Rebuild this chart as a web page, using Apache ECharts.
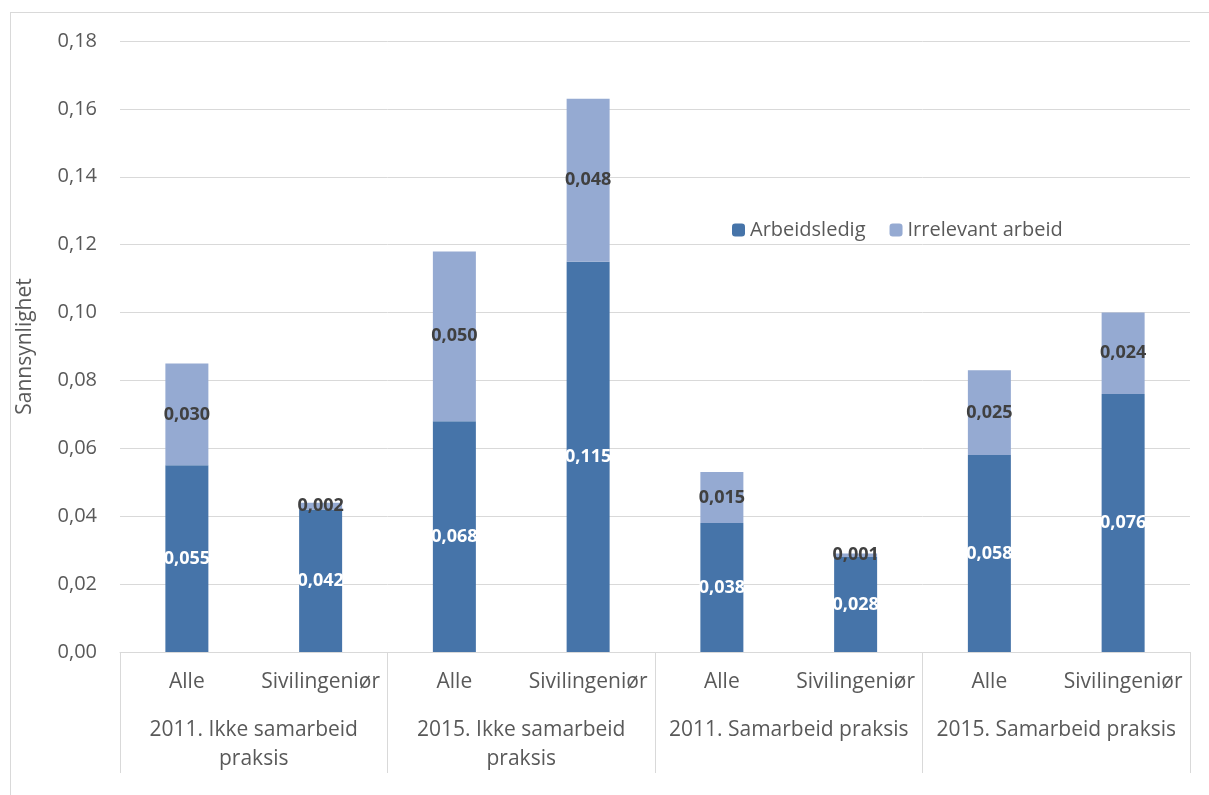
<!DOCTYPE html>
<html><head><meta charset="utf-8">
<script src="https://cdn.jsdelivr.net/npm/echarts@6/dist/echarts.min.js"></script>
<style>html,body{margin:0;padding:0;background:#fff;overflow:hidden}#c{width:1209px;height:795px;position:relative}
#frame{position:absolute;left:10px;top:12px;width:1300px;height:900px;border-left:1px solid #d9d9d9;border-top:1px solid #d9d9d9;pointer-events:none}</style>
</head><body><div id="frame"></div><div id="c"></div>
<script>
const subCategories = ['Alle','Sivilingeniør','Alle','Sivilingeniør','Alle','Sivilingeniør','Alle','Sivilingeniør'];
const groupLabels = ['2011. Ikke samarbeid\npraksis','2015. Ikke samarbeid\npraksis','2011. Samarbeid praksis','2015. Samarbeid praksis'];
const arbeidsledig = [0.055,0.042,0.068,0.115,0.038,0.028,0.058,0.076];
const irrelevant = [0.030,0.002,0.050,0.048,0.015,0.001,0.025,0.024];
const yTicks = {min:0, max:0.18, interval:0.02};

const FONT = '"Open Sans", Lato, sans-serif';
const fmt = v => v.toFixed(3).replace('.', ',');
const chart = echarts.init(document.getElementById('c'));
chart.setOption({
  animation:false,
  textStyle:{fontFamily:FONT},
  grid:{left:120,right:19,top:41,bottom:143},
  legend:{left:727,top:215,itemWidth:13,itemHeight:13,itemGap:24,
    textStyle:{fontSize:20,color:'#595959',fontFamily:FONT},
    data:['Arbeidsledig','Irrelevant arbeid']},
  xAxis:[
    {type:'category',data:subCategories,
     axisLine:{lineStyle:{color:'#d9d9d9',width:1}},
     axisTick:{show:false},
     axisLabel:{interval:0,fontSize:21,color:'#595959',margin:20,fontFamily:FONT}},
    {type:'category',data:groupLabels,position:'bottom',
     axisLine:{show:false},
     axisTick:{show:true,length:121,lineStyle:{color:'#d9d9d9',width:1}},
     axisLabel:{interval:0,fontSize:21,color:'#595959',margin:64,lineHeight:29,fontFamily:FONT}}
  ],
  yAxis:{type:'value',min:yTicks.min,max:yTicks.max,interval:yTicks.interval,
    name:'Sannsynlighet',nameLocation:'middle',nameGap:84,nameRotate:90,
    nameTextStyle:{fontSize:21,color:'#595959',fontFamily:FONT},
    axisLine:{show:false},axisTick:{show:false},
    axisLabel:{fontSize:20,color:'#595959',margin:23,fontFamily:FONT,formatter:v=>v.toFixed(2).replace('.',',')},
    splitLine:{lineStyle:{color:'#d9d9d9',width:1}}},
  series:[
    {name:'Arbeidsledig',type:'bar',stack:'a',data:arbeidsledig,barWidth:43,xAxisIndex:0,
     itemStyle:{color:'#4674A9'},
     label:{show:true,position:'inside',color:'#fff',fontWeight:'bold',fontSize:18,fontFamily:FONT,formatter:p=>fmt(p.value)}},
    {name:'Irrelevant arbeid',type:'bar',stack:'a',data:irrelevant,barWidth:43,xAxisIndex:0,
     itemStyle:{color:'#95AAD2'},
     label:{show:true,position:'inside',color:'#404040',fontWeight:'bold',fontSize:18,fontFamily:FONT,formatter:p=>fmt(p.value)}}
  ]
});
</script></body></html>
